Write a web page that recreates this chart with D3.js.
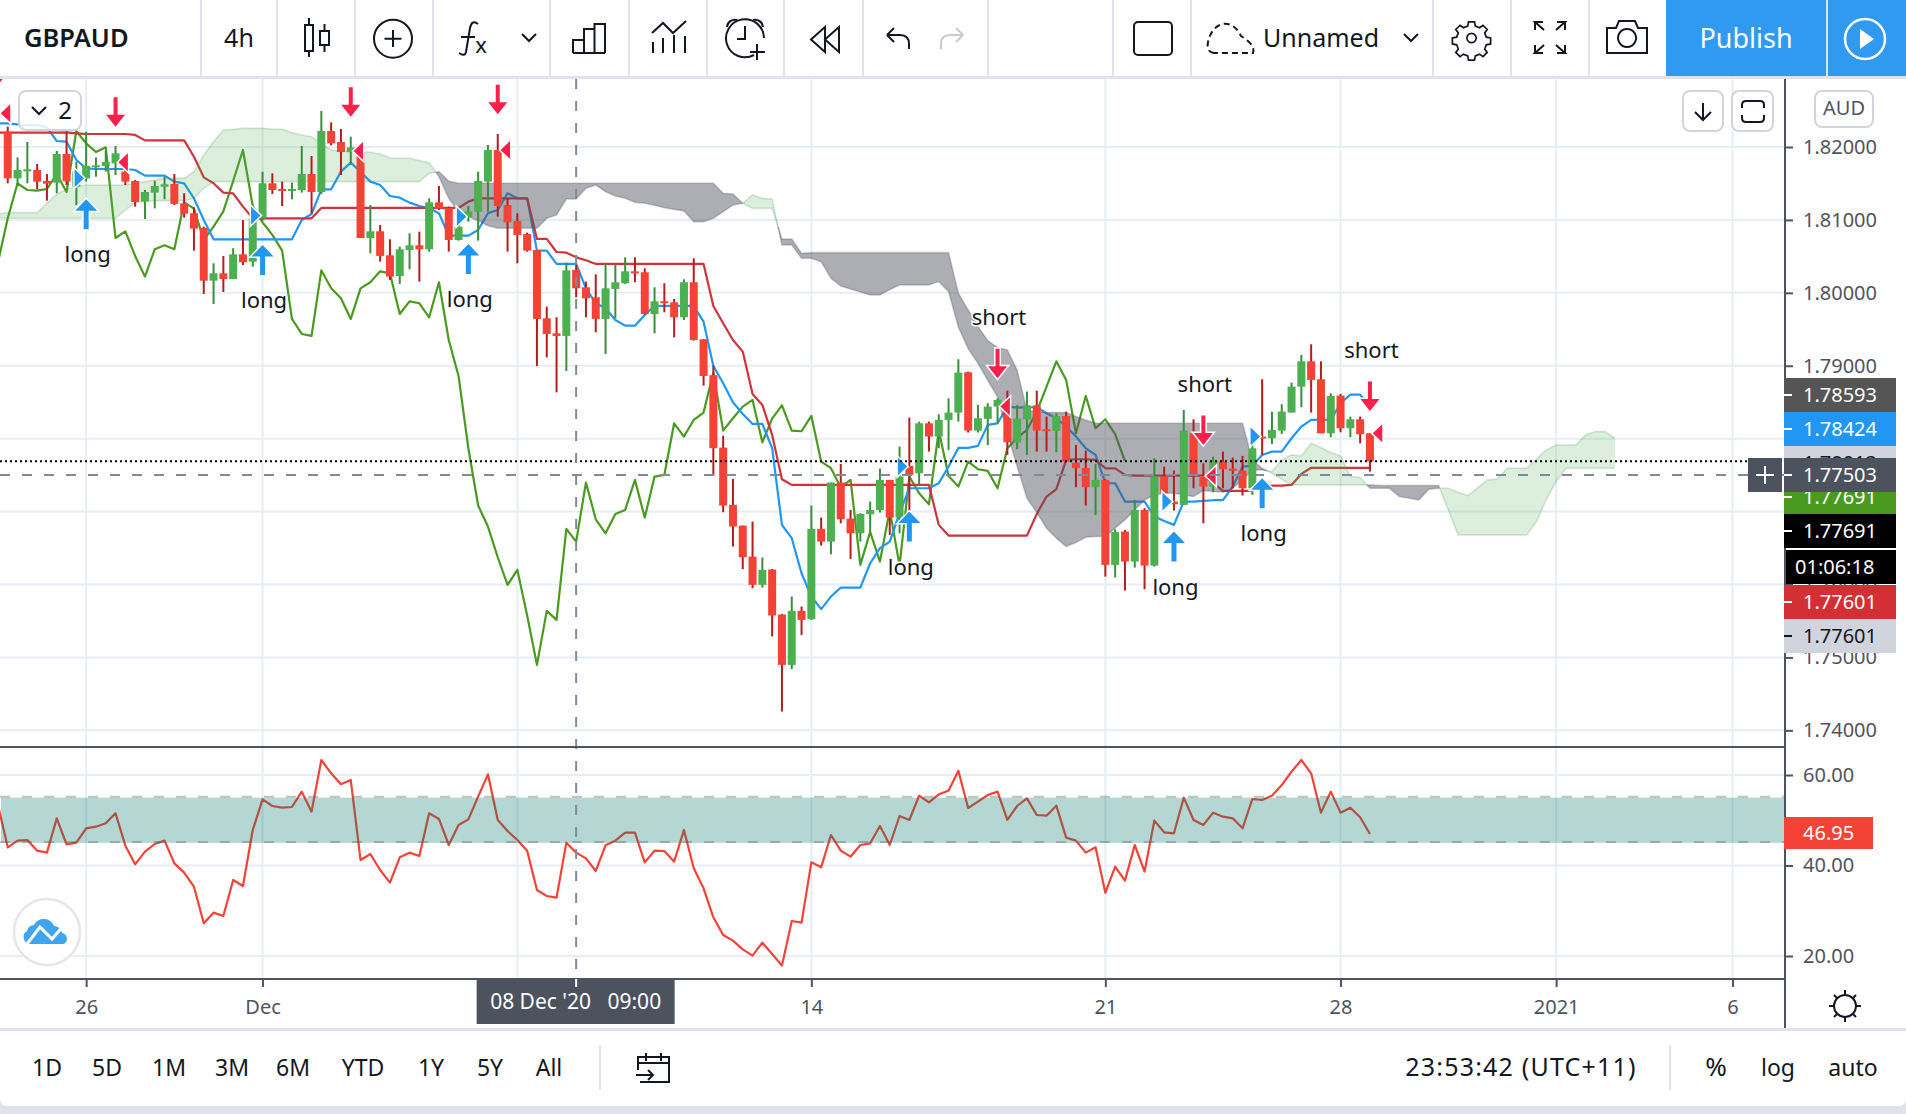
<!DOCTYPE html>
<html>
<head>
<meta charset="utf-8">
<title>GBPAUD 4h</title>
<script src="https://cdn.jsdelivr.net/npm/d3@7"></script>
<style>
  html, body { margin: 0; padding: 0; background: #fff; overflow: hidden; }
  svg { display: block; }
  text { font-family: "Noto Sans", sans-serif; }
</style>
</head>
<body>
<svg id="chart" width="1906" height="1114"></svg>
<script>
// ---------- OHLC, one entry per 4h bar, bar 0 at the left edge of the pane ----------
const opens = [1.82210,1.81570,1.81671,1.81685,1.81534,1.81511,1.81904,1.81456,1.81570,1.81726,
1.81740,1.81776,1.81662,1.81534,1.81251,1.81374,1.81456,1.81493,1.81228,1.81091,
1.80889,1.80167,1.80268,1.80190,1.80528,1.80428,1.81022,1.81502,1.81424,1.81401,
1.81410,1.81630,1.81383,1.82219,1.82069,1.81931,1.81931,1.80752,1.80844,1.80515,
1.80231,1.80588,1.80652,1.80597,1.81241,1.81164,1.80725,1.81036,1.81113,1.81525,
1.81959,1.81205,1.80985,1.80807,1.80588,1.79651,1.79445,1.79409,1.80314,1.80076,
1.79939,1.79642,1.80053,1.80131,1.80295,1.80282,1.79710,1.79884,1.79870,1.79665,
1.80145,1.79363,1.78870,1.77878,1.77092,1.76808,1.76383,1.75995,1.76205,1.75588,
1.74898,1.75639,1.75524,1.76763,1.76589,1.77398,1.76904,1.76703,1.76964,1.77023,
1.77435,1.76918,1.77627,1.77526,1.78211,1.78029,1.78257,1.78358,1.78911,1.78111,
1.78271,1.78440,1.78486,1.77946,1.78266,1.78458,1.78129,1.78106,1.78312,1.77672,
1.77599,1.77334,1.77435,1.76269,1.76726,1.76315,1.77023,1.76260,1.77480,1.77138,
1.77092,1.78074,1.77489,1.77343,1.77686,1.77590,1.77562,1.77320,1.78029,1.78006,
1.78111,1.78358,1.78714,1.79061,1.78815,1.78074,1.78591,1.78143,1.78266,1.78074];
const highs = [1.82279,1.81858,1.82069,1.81767,1.81630,1.81945,1.82210,1.81799,1.82210,1.81858,
1.81950,1.82014,1.81822,1.81548,1.81410,1.81538,1.81593,1.81630,1.81365,1.81173,
1.80908,1.80405,1.80506,1.80611,1.80999,1.81091,1.81662,1.81639,1.81525,1.81511,
1.82014,1.81877,1.82494,1.82338,1.82247,1.82142,1.81959,1.81205,1.80931,1.80734,
1.80634,1.80816,1.80839,1.81296,1.81465,1.81182,1.80953,1.81191,1.81662,1.82027,
1.82178,1.81296,1.81091,1.80826,1.80588,1.79811,1.79665,1.80414,1.80405,1.80154,
1.80254,1.80396,1.80396,1.80487,1.80487,1.80337,1.80076,1.80131,1.79916,1.80186,
1.80474,1.79368,1.79002,1.78042,1.77448,1.76808,1.76863,1.76370,1.76214,1.75597,
1.75835,1.75698,1.77083,1.76918,1.77398,1.77654,1.77023,1.76978,1.77138,1.77590,
1.77435,1.77892,1.78289,1.78234,1.78234,1.78335,1.78554,1.79089,1.78920,1.78463,
1.78486,1.78554,1.78659,1.78463,1.78646,1.78659,1.78303,1.78349,1.78371,1.77914,
1.77837,1.77654,1.77444,1.76758,1.76749,1.77160,1.77046,1.77732,1.77617,1.77563,
1.78394,1.78266,1.77663,1.77754,1.77823,1.77741,1.77764,1.77914,1.78815,1.78371,
1.78472,1.78769,1.79148,1.79295,1.79061,1.78623,1.78614,1.78303,1.78303,1.78074];
const lows = [1.81502,1.81479,1.81502,1.81420,1.81264,1.81365,1.81479,1.81205,1.81525,1.81593,
1.81662,1.81616,1.81479,1.81182,1.81013,1.81159,1.81283,1.81205,1.81031,1.80579,
1.79985,1.79848,1.80012,1.80190,1.80382,1.80359,1.80990,1.81356,1.81191,1.81283,
1.81374,1.81091,1.81356,1.82023,1.81616,1.81776,1.80752,1.80542,1.80428,1.80177,
1.80122,1.80323,1.80154,1.80565,1.81136,1.80565,1.80716,1.80976,1.80716,1.81113,
1.81045,1.80565,1.80405,1.80565,1.78997,1.79116,1.78636,1.78929,1.79939,1.79665,
1.79459,1.79162,1.79651,1.80122,1.80145,1.79701,1.79445,1.79733,1.79391,1.79628,
1.79345,1.78728,1.77489,1.76991,1.76521,1.76210,1.75949,1.75958,1.75287,1.74258,
1.74839,1.75309,1.75515,1.76534,1.76415,1.76840,1.76352,1.76589,1.76726,1.76987,
1.76680,1.76703,1.77000,1.77366,1.77823,1.77869,1.77846,1.78234,1.78084,1.78084,
1.77914,1.78211,1.77777,1.77855,1.77777,1.77823,1.77823,1.77814,1.77677,1.77334,
1.77083,1.76955,1.76109,1.76096,1.75917,1.76233,1.75936,1.76246,1.77229,1.77014,
1.77092,1.77320,1.76840,1.77266,1.77320,1.77320,1.77220,1.77229,1.77777,1.77928,
1.78065,1.78358,1.78431,1.78358,1.78074,1.78020,1.78088,1.78020,1.77937,1.77549];
const closes = [1.81570,1.81685,1.81694,1.81525,1.81497,1.81904,1.81529,1.81662,1.81740,1.81749,
1.81794,1.81913,1.81525,1.81246,1.81383,1.81465,1.81488,1.81219,1.81086,1.80880,
1.80167,1.80268,1.80190,1.80528,1.80419,1.81022,1.81502,1.81410,1.81401,1.81424,
1.81630,1.81383,1.82219,1.82050,1.81931,1.81995,1.80752,1.80844,1.80506,1.80222,
1.80597,1.80652,1.80597,1.81241,1.81155,1.80725,1.80908,1.81118,1.81534,1.81959,
1.81191,1.80967,1.80794,1.80579,1.79642,1.79436,1.79409,1.80309,1.80062,1.79925,
1.79642,1.80062,1.80145,1.80295,1.80268,1.79710,1.79884,1.79857,1.79665,1.80145,
1.79354,1.78860,1.77869,1.77083,1.76795,1.76374,1.75995,1.76201,1.75575,1.74898,
1.75639,1.75515,1.76763,1.76589,1.77398,1.76895,1.76703,1.76968,1.77023,1.77435,
1.76918,1.77480,1.77503,1.78211,1.78029,1.78257,1.78358,1.78906,1.78111,1.78280,
1.78440,1.78531,1.77951,1.78275,1.78458,1.78111,1.78102,1.78312,1.77686,1.77595,
1.77334,1.77435,1.76269,1.76722,1.76315,1.77023,1.76260,1.77480,1.77252,1.77101,
1.78111,1.77489,1.77343,1.77686,1.77581,1.77558,1.77320,1.77869,1.78010,1.78120,
1.78371,1.78714,1.79061,1.78806,1.78074,1.78586,1.78143,1.78266,1.78061,1.77691];

// ---------- Ichimoku lines; these four lists start at bar -1 ----------
const conversionLine = [1.82324,1.82324,1.82311,1.82302,1.82302,1.82270,1.82082,1.82073,1.81822,1.81708,
1.81698,1.81698,1.81698,1.81698,1.81685,1.81607,1.81607,1.81607,1.81525,1.81502,
1.81296,1.80999,1.80734,1.80734,1.80734,1.80734,1.80734,1.80734,1.80734,1.80734,
1.80734,1.80999,1.81081,1.81420,1.81420,1.81662,1.81785,1.81662,1.81525,1.81479,
1.81328,1.81305,1.81237,1.81191,1.81159,1.81091,1.80784,1.80784,1.80784,1.80862,
1.81091,1.81136,1.81365,1.81296,1.81296,1.80579,1.80579,1.80396,1.80396,1.80396,
1.80062,1.79857,1.79788,1.79628,1.79550,1.79550,1.79697,1.79820,1.79820,1.79820,
1.79820,1.79820,1.79605,1.78997,1.78760,1.78499,1.78339,1.78202,1.78202,1.77869,
1.76818,1.76635,1.76155,1.75835,1.75662,1.75835,1.75958,1.75958,1.75958,1.76292,
1.76498,1.76589,1.76978,1.77320,1.77320,1.77320,1.77389,1.77617,1.77873,1.77873,
1.77901,1.78189,1.78211,1.78440,1.78426,1.78431,1.78431,1.78349,1.78280,1.78166,
1.78029,1.77869,1.77777,1.77389,1.77389,1.77138,1.77138,1.77138,1.76932,1.76872,
1.76818,1.77138,1.77138,1.77147,1.77156,1.77156,1.77343,1.77617,1.77627,1.77777,
1.77823,1.77823,1.78006,1.78166,1.78257,1.78257,1.78257,1.78486,1.78604,1.78604,1.78424];
const baseLine = [1.82197,1.82197,1.82197,1.82197,1.82197,1.82197,1.82197,1.82201,1.82187,1.82178,
1.82178,1.82178,1.82178,1.82178,1.82165,1.82091,1.82091,1.82091,1.82091,1.82091,
1.81867,1.81584,1.81502,1.81374,1.81365,1.81182,1.81022,1.81022,1.81022,1.81022,
1.81022,1.81022,1.81022,1.81164,1.81164,1.81164,1.81164,1.81164,1.81164,1.81164,
1.81164,1.81164,1.81164,1.81164,1.81164,1.81164,1.81164,1.81164,1.81251,1.81296,
1.81296,1.81296,1.81296,1.81296,1.81296,1.80739,1.80739,1.80560,1.80551,1.80487,
1.80446,1.80396,1.80396,1.80396,1.80396,1.80396,1.80396,1.80396,1.80396,1.80396,
1.80396,1.80396,1.80396,1.79820,1.79582,1.79354,1.79194,1.78614,1.78463,1.78052,
1.77444,1.77366,1.77366,1.77366,1.77366,1.77366,1.77366,1.77366,1.77366,1.77366,
1.77366,1.77366,1.77366,1.77366,1.77366,1.77366,1.76818,1.76671,1.76671,1.76671,
1.76671,1.76671,1.76671,1.76671,1.76671,1.76671,1.76968,1.77206,1.77307,1.77709,
1.77718,1.77718,1.77709,1.77594,1.77594,1.77503,1.77494,1.77494,1.77494,1.77494,
1.77494,1.77494,1.77494,1.77494,1.77389,1.77284,1.77284,1.77284,1.77284,1.77357,
1.77357,1.77357,1.77366,1.77517,1.77601,1.77601,1.77601,1.77601,1.77601,1.77601,1.77601];
// Lagging span: each close plotted 25 bars back, ending on the last close
const laggingSpan = [1.80419,1.81022,1.81502,1.81410,1.81401,1.81424,
1.81630,1.81383,1.82219,1.82050,1.81931,1.81995,1.80752,1.80844,1.80506,1.80222,
1.80597,1.80652,1.80597,1.81241,1.81155,1.80725,1.80908,1.81118,1.81534,1.81959,
1.81191,1.80967,1.80794,1.80579,1.79642,1.79436,1.79409,1.80309,1.80062,1.79925,
1.79642,1.80062,1.80145,1.80295,1.80268,1.79710,1.79884,1.79857,1.79665,1.80145,
1.79354,1.78860,1.77869,1.77083,1.76795,1.76374,1.75995,1.76201,1.75575,1.74898,
1.75639,1.75515,1.76763,1.76589,1.77398,1.76895,1.76703,1.76968,1.77023,1.77435,
1.76918,1.77480,1.77503,1.78211,1.78029,1.78257,1.78358,1.78906,1.78111,1.78280,
1.78440,1.78531,1.77951,1.78275,1.78458,1.78111,1.78102,1.78312,1.77686,1.77595,
1.77334,1.77435,1.76269,1.76722,1.76315,1.77023,1.76260,1.77480,1.77252,1.77101,
1.78111,1.77489,1.77343,1.77686,1.77581,1.77558,1.77320,1.77869,1.78010,1.78120,
1.78371,1.78714,1.79061,1.78806,1.78074,1.78586,1.78143,1.78266,1.78061,1.77691];

// Cloud edges, bar -1 through bar 164 (projected past the last candle)
const leadingSpanA = [1.81081,1.81100,1.81100,1.81100,1.81100,1.81228,1.81356,1.81420,1.81456,1.81479,
1.81479,1.81479,1.81479,1.81479,1.81502,1.81525,1.81548,1.81570,1.81570,1.81570,
1.81662,1.81890,1.82073,1.82233,1.82242,1.82256,1.82256,1.82256,1.82247,1.82242,
1.82197,1.82165,1.82142,1.82041,1.81959,1.81945,1.81936,1.81936,1.81927,1.81904,
1.81849,1.81845,1.81845,1.81813,1.81785,1.81593,1.81296,1.81113,1.81045,1.80990,
1.80921,1.80885,1.80885,1.80885,1.80885,1.80885,1.81022,1.81068,1.81287,1.81287,
1.81433,1.81479,1.81388,1.81328,1.81296,1.81241,1.81228,1.81200,1.81168,1.81145,
1.81123,1.80976,1.80976,1.81022,1.81113,1.81205,1.81228,1.81342,1.81296,1.81287,
1.80656,1.80656,1.80474,1.80474,1.80428,1.80199,1.80094,1.80053,1.80012,1.79971,
1.79971,1.80044,1.80108,1.80108,1.80108,1.80108,1.80154,1.80017,1.79532,1.79235,
1.79034,1.78801,1.78573,1.78074,1.77617,1.77183,1.76987,1.76772,1.76635,1.76521,
1.76575,1.76649,1.76658,1.76658,1.76772,1.76886,1.77023,1.77160,1.77229,1.77252,
1.77252,1.77229,1.77206,1.77288,1.77275,1.77266,1.77320,1.77435,1.77572,1.77572,
1.77549,1.77709,1.77777,1.77764,1.77937,1.77878,1.77809,1.77764,1.77480,1.77471,
1.77320,1.77320,1.77320,1.77206,1.77183,1.77160,1.77307,1.77320,1.77320,1.77261,
1.77220,1.77329,1.77435,1.77448,1.77594,1.77594,1.77594,1.77722,1.77846,1.77914,
1.77914,1.77914,1.78052,1.78097,1.78097,1.78006];
const leadingSpanB = [1.81022,1.81022,1.81022,1.81022,1.81022,1.81022,1.81022,1.81022,1.81022,1.81022,
1.81022,1.81022,1.81022,1.81136,1.81237,1.81260,1.81264,1.81264,1.81264,1.81264,
1.81296,1.81433,1.81525,1.81525,1.81525,1.81525,1.81525,1.81525,1.81525,1.81525,
1.81525,1.81525,1.81525,1.81525,1.81525,1.81525,1.81525,1.81525,1.81525,1.81525,
1.81525,1.81525,1.81525,1.81525,1.81639,1.81662,1.81534,1.81502,1.81502,1.81502,
1.81502,1.81502,1.81502,1.81502,1.81502,1.81502,1.81502,1.81502,1.81502,1.81502,
1.81502,1.81502,1.81502,1.81502,1.81502,1.81502,1.81502,1.81502,1.81502,1.81502,
1.81502,1.81502,1.81502,1.81502,1.81365,1.81356,1.81228,1.81159,1.81159,1.81159,
1.80739,1.80739,1.80542,1.80551,1.80551,1.80551,1.80551,1.80551,1.80551,1.80551,
1.80551,1.80551,1.80551,1.80551,1.80551,1.80551,1.80551,1.80551,1.79994,1.79765,
1.79537,1.79345,1.79249,1.79217,1.78938,1.78385,1.78371,1.78358,1.78358,1.78358,
1.78303,1.78257,1.78211,1.78211,1.78211,1.78211,1.78211,1.78211,1.78211,1.78211,
1.78211,1.78211,1.78211,1.78211,1.78211,1.78211,1.78211,1.78211,1.77709,1.77594,
1.77526,1.77444,1.77366,1.77366,1.77366,1.77366,1.77366,1.77366,1.77366,1.77366,
1.77366,1.77357,1.77357,1.77357,1.77357,1.77357,1.77357,1.77357,1.77023,1.76681,
1.76681,1.76681,1.76681,1.76681,1.76681,1.76681,1.76681,1.76863,1.77169,1.77412,
1.77594,1.77594,1.77594,1.77594,1.77594,1.77594];

// ---------- RSI, bar -1 through the last bar ----------
const rsiValues = [53.37,44.02,45.49,45.64,43.28,42.84,50.42,44.68,45.05,48.21,
48.58,49.32,51.53,44.38,40.26,43.06,44.75,45.49,40.48,38.42,
35.32,27.22,29.58,28.84,36.80,35.47,47.85,54.62,53.15,52.78,
52.93,56.32,51.90,63.31,60.37,57.94,58.90,41.22,42.54,39.01,
36.21,41.81,42.84,42.10,51.53,50.28,44.53,48.95,50.20,55.21,
60.15,50.06,47.63,45.64,43.28,34.59,33.26,32.89,45.05,42.84,
41.58,38.79,44.46,45.49,47.26,47.26,40.70,43.28,43.21,40.85,
47.85,39.38,34.96,28.55,24.64,23.39,21.48,20.08,22.95,20.44,
17.87,27.74,27.37,40.70,39.60,46.74,43.28,41.95,44.53,44.90,
48.73,44.53,50.94,50.06,55.43,53.96,55.73,56.54,60.96,52.71,
54.11,55.58,56.32,50.06,53.15,54.84,51.16,51.01,53.22,46.15,
45.49,42.84,44.02,34.00,39.74,36.65,44.53,38.64,49.91,47.33,
47.11,54.99,50.06,48.95,51.68,50.79,50.42,48.21,54.70,54.48,
55.43,57.79,60.74,63.31,60.37,51.68,56.32,51.68,52.78,50.65,46.95];
const rsiBandLevels = [55, 45];

// ---------- Signals ----------
const longBars = [8, 26, 47, 92, 119, 128];
const longTips = [1.81283, 1.80656, 1.80670, 1.77000, 1.76726, 1.77457];
const shortBars = [-1, 11, 35, 50, 101, 122, 139];
const shortTips = [1.82850, 1.82279, 1.82416, 1.82448, 1.78828, 1.77914, 1.78381];
const shortCaptionBars = [101, 122, 139];
const entryBuyBars = [7, 25, 46, 91, 118, 127];
const entryBuyPrices = [1.81570, 1.81059, 1.81045, 1.77617, 1.77138, 1.78029];
const entrySellBars = [0, 12, 36, 51, 102, 123, 140];
const entrySellPrices = [1.82462, 1.81790, 1.81945, 1.81959, 1.78440, 1.77489, 1.78074];

// ---------- Axes content ----------
const priceTicks = [1.82, 1.81, 1.80, 1.79, 1.78, 1.77, 1.76, 1.75, 1.74];
const rsiTicks = [60, 40, 20];
const timeTickBars = [8, 26, 52, 82, 112, 136, 158, 176];
const timeTickLabels = ["26", "Dec", "7", "14", "21", "28", "2021", "6"];
const crosshairBar = 58;
const crosshairPrice = 1.77503;
const crosshairTimeLabel = "08 Dec '20   09:00";
const lastClose = 1.77691;
const priceTags = ["1.78593", "1.78424", "1.78013", "1.77691", "1.77691", "01:06:18", "1.77601", "1.77601"];
const rangeButtons = ["1D", "5D", "1M", "3M", "6M", "YTD", "1Y", "5Y", "All"];

// ---------- Layout ----------
const paneRight = 1785, paneTop = 79, priceBottom = 746, rsiBottom = 979, timeBottom = 1028;
const ink = "#131722", axisInk = "#50535e", gridColor = "#e6eef5", rule = "#e0e3eb";
const blue = "#2196f3", signalRed = "#ff1f4b", guideColor = "#7f8a9a";

const x = d3.scaleLinear().domain([0, 176]).range([7.75, 1732.55]);
const yPrice = d3.scaleLinear().domain([1.74, 1.82]).range([730.36, 147]);
const yRsi = d3.scaleLinear().domain([20, 60]).range([956, 775]);

const svg = d3.select("#chart");
const defs = svg.append("defs");
defs.append("clipPath").attr("id", "priceClip").append("rect")
  .attr("x", 0).attr("y", paneTop).attr("width", paneRight).attr("height", priceBottom - paneTop);
defs.append("clipPath").attr("id", "rsiClip").append("rect")
  .attr("x", 0).attr("y", priceBottom).attr("width", paneRight).attr("height", rsiBottom - priceBottom);

// ---------- Grid ----------
const grid = svg.append("g").attr("stroke", gridColor).attr("stroke-width", 2);
grid.selectAll("line.v").data(timeTickBars).join("line").attr("class", "v")
  .attr("x1", d => x(d)).attr("x2", d => x(d)).attr("y1", paneTop).attr("y2", rsiBottom);
grid.selectAll("line.h").data(priceTicks).join("line").attr("class", "h")
  .attr("x1", 0).attr("x2", paneRight).attr("y1", d => yPrice(d)).attr("y2", d => yPrice(d));
grid.selectAll("line.r").data(rsiTicks).join("line").attr("class", "r")
  .attr("x1", 0).attr("x2", paneRight).attr("y1", d => yRsi(d)).attr("y2", d => yRsi(d));

// ---------- Price pane ----------
const pricePane = svg.append("g").attr("clip-path", "url(#priceClip)");
const lineFrom = firstBar => d3.line().x((d, k) => x(firstBar + k)).y(d => yPrice(d));
const drawLine = (values, color, firstBar) => pricePane.append("path").datum(values)
  .attr("fill", "none").attr("stroke", color).attr("stroke-width", 2.2)
  .attr("stroke-linejoin", "round").attr("d", lineFrom(firstBar));
drawLine(laggingSpan, "#4a9a20", -1);
drawLine(conversionLine, blue, -1);
drawLine(baseLine, "#d0343a", -1);

// Split the cloud into runs wherever the two spans cross, so each run has one colour
function cloudRuns() {
  const runs = [];
  let run = null;
  leadingSpanA.forEach((a, k) => {
    const b = leadingSpanB[k], bar = k - 1, up = a >= b;
    if (run && run.up !== up) {
      const prev = run.points[run.points.length - 1];
      const t = (prev.a - prev.b) / ((prev.a - prev.b) - (a - b));
      const cross = { bar: prev.bar + t, a: prev.a + t * (a - prev.a), b: prev.a + t * (a - prev.a) };
      run.points.push(cross);
      run = { up, points: [cross] };
      runs.push(run);
    } else if (!run) {
      run = { up, points: [] };
      runs.push(run);
    }
    run.points.push({ bar, a, b });
  });
  return runs;
}
const cloudArea = d3.area().x(d => x(d.bar)).y0(d => yPrice(d.a)).y1(d => yPrice(d.b));
const edgeA = d3.line().x(d => x(d.bar)).y(d => yPrice(d.a));
const edgeB = d3.line().x(d => x(d.bar)).y(d => yPrice(d.b));
const cloud = pricePane.append("g");
cloudRuns().forEach(r => {
  cloud.append("path").attr("d", cloudArea(r.points))
    .attr("fill", r.up ? "rgba(76,175,80,0.2)" : "rgba(80,83,94,0.47)");
  [edgeA, edgeB].forEach(edge => cloud.append("path").attr("d", edge(r.points))
    .attr("fill", "none").attr("stroke-width", 1.6)
    .attr("stroke", r.up ? "rgba(76,140,80,0.22)" : "rgba(80,83,94,0.3)"));
});

// Candles
const candles = pricePane.append("g");
const bars = d3.range(closes.length);
const isUp = i => closes[i] >= opens[i];
candles.selectAll("line").data(bars).join("line")
  .attr("x1", i => x(i)).attr("x2", i => x(i))
  .attr("y1", i => yPrice(highs[i])).attr("y2", i => yPrice(lows[i]))
  .attr("stroke", i => isUp(i) ? "#388e3c" : "#b71c1c").attr("stroke-width", 2);
candles.selectAll("rect").data(bars).join("rect")
  .attr("x", i => x(i) - 4).attr("width", 8)
  .attr("y", i => yPrice(Math.max(opens[i], closes[i])))
  .attr("height", i => Math.max(2, Math.abs(yPrice(opens[i]) - yPrice(closes[i]))))
  .attr("fill", i => isUp(i) ? "#4caf50" : "#f44336");

// Signal marks, white-edged so they stand off the candles
const marks = pricePane.append("g").attr("stroke", "#fff").attr("stroke-width", 3)
  .attr("stroke-linejoin", "miter").attr("paint-order", "stroke");
const upArrow = (px, py) => `M${px},${py}l11,11.5h-8.5v18.5h-5v-18.5h-8.5z`;
const downArrow = (px, py) => `M${px},${py}l-9.5,-12h7.5v-17.500h4v17.500h7.500z`;
marks.selectAll("path.long").data(longBars).join("path").attr("class", "long")
  .attr("d", (d, k) => upArrow(x(d), yPrice(longTips[k]))).attr("fill", blue);
marks.selectAll("path.short").data(shortBars).join("path").attr("class", "short")
  .attr("d", (d, k) => downArrow(x(d), yPrice(shortTips[k]))).attr("fill", signalRed);
marks.selectAll("path.buy").data(entryBuyBars).join("path").attr("class", "buy")
  .attr("d", (d, k) => { const py = yPrice(entryBuyPrices[k]), px = x(d); return `M${px - 1.7},${py - 9}L${px + 7.7},${py}L${px - 1.7},${py + 9}Z`; })
  .attr("fill", blue);
marks.selectAll("path.sell").data(entrySellBars).join("path").attr("class", "sell")
  .attr("d", (d, k) => { const py = yPrice(entrySellPrices[k]), px = x(d); return `M${px + 2.5},${py - 9}L${px - 7},${py}L${px + 2.5},${py + 9}Z`; })
  .attr("fill", signalRed);

const captions = pricePane.append("g").attr("font-size", 22).attr("fill", ink).attr("text-anchor", "middle")
  .attr("stroke", "#fff").attr("stroke-width", 3).attr("paint-order", "stroke");
captions.selectAll("text.l").data(longBars).join("text").attr("class", "l")
  .attr("x", d => x(d) + 1.5).attr("y", (d, k) => yPrice(longTips[k]) + 63).text("long");
captions.selectAll("text.s").data(shortCaptionBars).join("text").attr("class", "s")
  .attr("x", d => x(d) + 1.5).attr("y", d => yPrice(shortTips[shortBars.indexOf(d)]) - 53).text("short");

// ---------- RSI pane ----------
const rsiPane = svg.append("g").attr("clip-path", "url(#rsiClip)");
rsiPane.append("path").datum(rsiValues).attr("fill", "none").attr("stroke", "#f44336").attr("stroke-width", 2.2)
  .attr("stroke-linejoin", "round")
  .attr("d", d3.line().x((d, k) => x(k - 1)).y(d => yRsi(d)));
rsiPane.append("rect").attr("x", 1).attr("width", paneRight)
  .attr("y", yRsi(rsiBandLevels[0])).attr("height", yRsi(rsiBandLevels[1]) - yRsi(rsiBandLevels[0]))
  .attr("fill", "rgba(8,122,108,0.3)");
rsiPane.selectAll("line").data(rsiBandLevels).join("line")
  .attr("x1", 0).attr("x2", paneRight).attr("y1", d => yRsi(d) - 1).attr("y2", d => yRsi(d) - 1)
  .attr("stroke", "rgba(100,100,100,0.4)").attr("stroke-width", 2).attr("stroke-dasharray", "10 12");

// Logo badge
const badge = svg.append("g");
badge.append("ellipse").attr("cx", 47).attr("cy", 932).attr("rx", 33).attr("ry", 33).attr("fill", "#fff").attr("stroke", "#e6e6e6").attr("stroke-width", 2.5);
badge.append("path").attr("fill", "#3fa6ee")
  .attr("d", "M30,944a7,7,0,0,1,-3,-13a7,7,0,0,1,7,-6a11,11,0,0,1,20,1a8,8,0,0,1,8,7a6,6,0,0,1,2,11z");
badge.append("path").attr("fill", "none").attr("stroke", "#fff").attr("stroke-width", 3).attr("d", "M27,944L40,927L52,939L65,924");

// ---------- Crosshair and last-price line ----------
const guides = svg.append("g").attr("stroke-width", 2);
guides.append("line").attr("x1", 0).attr("x2", paneRight).attr("y1", yPrice(lastClose)).attr("y2", yPrice(lastClose))
  .attr("stroke", "#000").attr("stroke-dasharray", "2 3");
guides.append("line").attr("x1", 0).attr("x2", paneRight).attr("y1", yPrice(crosshairPrice)).attr("y2", yPrice(crosshairPrice))
  .attr("stroke", guideColor).attr("stroke-dasharray", "10 12");
guides.append("line").attr("x1", x(crosshairBar)).attr("x2", x(crosshairBar)).attr("y1", paneTop).attr("y2", rsiBottom)
  .attr("stroke", guideColor).attr("stroke-dasharray", "10 12");

// ---------- Frames ----------
svg.append("rect").attr("x", 0).attr("y", 76).attr("width", 1906).attr("height", 3).attr("fill", rule);
svg.append("rect").attr("x", 0).attr("y", priceBottom).attr("width", paneRight).attr("height", 2).attr("fill", axisInk);
svg.append("rect").attr("x", 0).attr("y", rsiBottom - 1).attr("width", paneRight).attr("height", 2).attr("fill", axisInk);
svg.append("rect").attr("x", paneRight - 1).attr("y", paneTop).attr("width", 2).attr("height", timeBottom - paneTop).attr("fill", axisInk);

// ---------- Axes ----------
function styleAxis(g) {
  g.select(".domain").remove();
  g.selectAll("line").attr("stroke", axisInk).attr("stroke-width", 2);
  g.selectAll("text").attr("fill", axisInk).attr("font-size", 20).attr("font-family", '"Noto Sans", sans-serif');
}
svg.append("g").attr("transform", `translate(${paneRight},0)`)
  .call(d3.axisRight(yPrice).tickValues(priceTicks).tickFormat(d3.format(".5f")).tickSize(8).tickPadding(10))
  .call(styleAxis);
svg.append("g").attr("transform", `translate(${paneRight},0)`)
  .call(d3.axisRight(yRsi).tickValues(rsiTicks).tickFormat(d3.format(".2f")).tickSize(8).tickPadding(10))
  .call(styleAxis);
svg.append("g").attr("transform", `translate(0,${rsiBottom})`)
  .call(d3.axisBottom(x).tickValues(timeTickBars).tickFormat(d => timeTickLabels[timeTickBars.indexOf(d)]).tickSize(8).tickPadding(13))
  .call(styleAxis);

// Stacked value tags on the price scale
const tagRows = [
  { top: 378, fill: "#555555", text: "#fff" },
  { top: 412, fill: blue, text: "#fff" },
  { top: 446, fill: "#d1d4dc", text: ink },
  { top: 480, fill: "#4a9a20", text: "#fff" },
  { top: 514, fill: "#000", text: "#fff" },
  { top: 550, fill: "#000", text: "#fff", plain: true },
  { top: 585, fill: "#d32f34", text: "#fff" },
  { top: 619, fill: "#d1d4dc", text: ink }
];
const drawTag = (label, top, fill, text, plain) => {
  const tag = svg.append("g");
  tag.append("rect").attr("x", plain ? paneRight + 1 : paneRight - 1).attr("y", top)
    .attr("width", plain ? 110 : 112).attr("height", 34).attr("fill", fill);
  if (!plain) tag.append("rect").attr("x", paneRight - 1).attr("y", top + 16).attr("width", 8).attr("height", 2).attr("fill", text);
  tag.append("text").attr("x", plain ? paneRight + 10 : paneRight + 18).attr("y", top + 24).attr("font-size", 20).attr("fill", text).text(label);
};
priceTags.forEach((label, k) => { const r = tagRows[k]; drawTag(label, r.top, r.fill, r.text, r.plain); });

// Crosshair price tag with its plus button
drawTag(d3.format(".5f")(crosshairPrice), 458, "#4c525e", "#fff");
svg.append("rect").attr("x", 1748).attr("y", 458).attr("width", 34).attr("height", 34).attr("fill", "#4c525e");
svg.append("path").attr("d", "M1765,466v18M1756,475h18").attr("stroke", "#fff").attr("stroke-width", 2);

// RSI value tag
svg.append("rect").attr("x", paneRight - 1).attr("y", 817).attr("width", 89).attr("height", 32).attr("fill", "#f44336");
svg.append("text").attr("x", paneRight + 18).attr("y", 840).attr("font-size", 20).attr("fill", "#fff")
  .text(d3.format(".2f")(rsiValues[rsiValues.length - 1]));

// Crosshair time tag
const timeTagWidth = 198;
svg.append("rect").attr("x", x(crosshairBar) - 99.5).attr("y", rsiBottom).attr("width", timeTagWidth).attr("height", 45).attr("fill", "#4c525e");
svg.append("rect").attr("x", x(crosshairBar) - 1).attr("y", rsiBottom).attr("width", 2).attr("height", 8).attr("fill", "#fff");
svg.append("text").attr("x", x(crosshairBar) - 0.5).attr("y", 1009).attr("text-anchor", "middle").attr("font-size", 21)
  .attr("fill", "#fff").attr("xml:space", "preserve").style("white-space", "pre").text(crosshairTimeLabel);

// ---------- Top toolbar ----------
svg.append("rect").attr("x", 1666).attr("y", 0).attr("width", 240).attr("height", 76).attr("fill", "#2f9af0");
svg.append("rect").attr("x", 1826).attr("y", 0).attr("width", 2).attr("height", 76).attr("fill", "#cfe6fb");
const toolbarRules = [201, 277, 355, 433, 550, 629, 707, 784, 863, 988, 1113, 1191, 1433, 1511, 1589];
svg.selectAll("line.sep").data(toolbarRules).join("line").attr("class", "sep")
  .attr("x1", d => d).attr("x2", d => d).attr("y1", 0).attr("y2", 76).attr("stroke", rule).attr("stroke-width", 2);

const label = (txt, px, py, size, opts = {}) => svg.append("text").attr("x", px).attr("y", py)
  .attr("font-size", size).attr("fill", opts.fill || ink).attr("font-weight", opts.weight || 400)
  .attr("text-anchor", opts.anchor || "middle").style("letter-spacing", opts.spacing || null).text(txt);
label("GBPAUD", 24, 47, 25.5, { anchor: "start", weight: 600 });
label("4h", 239, 47, 25);
label("Unnamed", 1263, 47, 25, { anchor: "start" });
label("Publish", 1746, 48, 27, { fill: "#fff" });

const stroke = (d, color = ink, width = 2, extra = {}) => {
  const p = svg.append("path").attr("d", d).attr("fill", "none").attr("stroke", color).attr("stroke-width", width);
  Object.entries(extra).forEach(([k, v]) => p.attr(k, v));
  return p;
};
// Candle-style button
stroke("M305,25h8v26h-8zM309,18v7M309,51v6M320,31h9v14h-9zM324.5,24v7M324.5,45v7");
// Compare button
stroke("M412,38.7a19,19,0,1,0,-38,0a19,19,0,1,0,38,0M393,30v17M384.5,38.7h17");
// Indicators button
stroke("M478,24q-6,-5,-8,4l-4,24q-1,5,-7,1M461,37h14");
label("x", 481, 53, 22);
const chevron = (cx, cy) => stroke(`M${cx - 7},${cy - 3}l7,7l7,-7`);
chevron(529, 37);
// Templates, indicator templates, alert, replay, undo, redo
stroke("M573,53v-13h11v13M584,53v-24h10.500v24M594.500,53v-29h10.500v29M573,53h32");
stroke("M652,33l11,-10l10,10l13,-12M653,53v-11M663,53v-15M674,53v-18M685,53v-17");
stroke("M764,38a19,19,0,1,0,-10,17M745,26v13h-8M727,27a8,8,0,0,1,10,-7M763,27a8,8,0,0,0,-10,-7M757,44v16M750,52h15");
stroke("M825,27l-14,12.500l14,12.500zM839,27l-14,12.500l14,12.500z");
stroke("M887,35l7,-7M887,35l7,7M887,35h13q9,0,9,9v5");
stroke("M963,35l-7,-7M963,35l-7,7M963,35h-13q-9,0,-9,9v5", "#c8c9cc");
// Right side buttons
svg.append("rect").attr("x", 1134).attr("y", 22).attr("width", 38).attr("height", 33).attr("rx", 4).attr("fill", "none").attr("stroke", ink).attr("stroke-width", 2);
stroke("M1214,53q-8,-1,-6,-11q3,-14,14,-18q12,-2,19,12q3,2,7,5q7,6,5,12z", ink, 2, { "stroke-dasharray": "6 4" });
chevron(1411, 37);
stroke("M1471.500,32.500a5.500,5.500,0,1,0,0.100,0M1468,19h7l1,5l5,2l4,-3l5,5l-3,4l2,5l5,1v7l-5,1l-2,5l3,4l-5,5l-4,-3l-5,2l-1,5h-7l-1,-5l-5,-2l-4,3l-5,-5l3,-4l-2,-5l-5,-1v-7l5,-1l2,-5l-3,-4l5,-5l4,3l5,-2z")
  .attr("transform", "translate(1471.5 38) scale(0.85) translate(-1471.5 -38)");
stroke("M1544,30l-9,-8h8M1535,22v8M1556,30l9,-8h-8M1565,22v8M1544,45l-9,8h8M1535,53v-8M1556,45l9,8h-8M1565,53v-8");
stroke("M1607,28h9l3,-7h16l3,7h9v25h-40zM1627,29a9,9,0,1,0,0.100,0");
stroke("M1885,39a20,20,0,1,0,-40,0a20,20,0,1,0,40,0", "#fff", 2.5);
svg.append("path").attr("d", "M1860,29l14,10l-14,10z").attr("fill", "#fff");

// ---------- Pane buttons ----------
const softBox = (bx, by, w, h) => svg.append("rect").attr("x", bx).attr("y", by).attr("width", w).attr("height", h)
  .attr("rx", 7).attr("fill", "rgba(255,255,255,0.85)").attr("stroke", "#d1d4dc").attr("stroke-width", 2);
softBox(19, 91, 62, 39);
chevron(39, 110);
label("2", 65, 119, 24);
softBox(1683, 91, 40, 40);
stroke("M1703,103v17M1695,112l8,8l8,-8");
softBox(1732, 91, 41, 40);
stroke("M1742,108v-3q0,-4,4,-4h14q4,0,4,4v3M1742,115v3q0,4,4,4h14q4,0,4,-4v-3");
softBox(1815, 91, 58, 36);
label("AUD", 1844, 115, 20, { fill: axisInk });

// ---------- Bottom strip ----------
svg.append("rect").attr("x", 0).attr("y", timeBottom).attr("width", 1906).attr("height", 3).attr("fill", rule);
svg.append("path").attr("fill", rule).attr("d", "M0,1098q0,8,8,8H1898q8,0,8,-8V1114H0z");
const rangeCenters = [47, 107, 169, 232, 293, 363, 431, 490, 549];
rangeButtons.forEach((b, k) => label(b, rangeCenters[k], 1076, 23));
svg.append("line").attr("x1", 600).attr("x2", 600).attr("y1", 1045).attr("y2", 1090).attr("stroke", rule).attr("stroke-width", 2);
svg.append("line").attr("x1", 1670).attr("x2", 1670).attr("y1", 1045).attr("y2", 1090).attr("stroke", rule).attr("stroke-width", 2);
stroke("M638,1070v-13h31v25h-29M638,1063h31M646,1053v8M661,1053v8M636,1075h17M648,1070l5,5l-5,5");
label("23:53:42 (UTC+11)", 1521, 1076, 25, { spacing: "1.2px" });
label("%", 1716, 1076, 26);
label("log", 1778, 1076, 23);
label("auto", 1853, 1076, 23);

// Scale settings sun, lower right
stroke("M1856,1006a11,11,0,1,0,-22,0a11,11,0,1,0,22,0M1845,990v5M1845,1017v5M1829,1006h5M1856,1006h5M1834,995l2.500,2.500M1856,995l-2.500,2.500M1834,1017l2.500,-2.500M1856,1017l-2.500,-2.500");
</script>
</body>
</html>
